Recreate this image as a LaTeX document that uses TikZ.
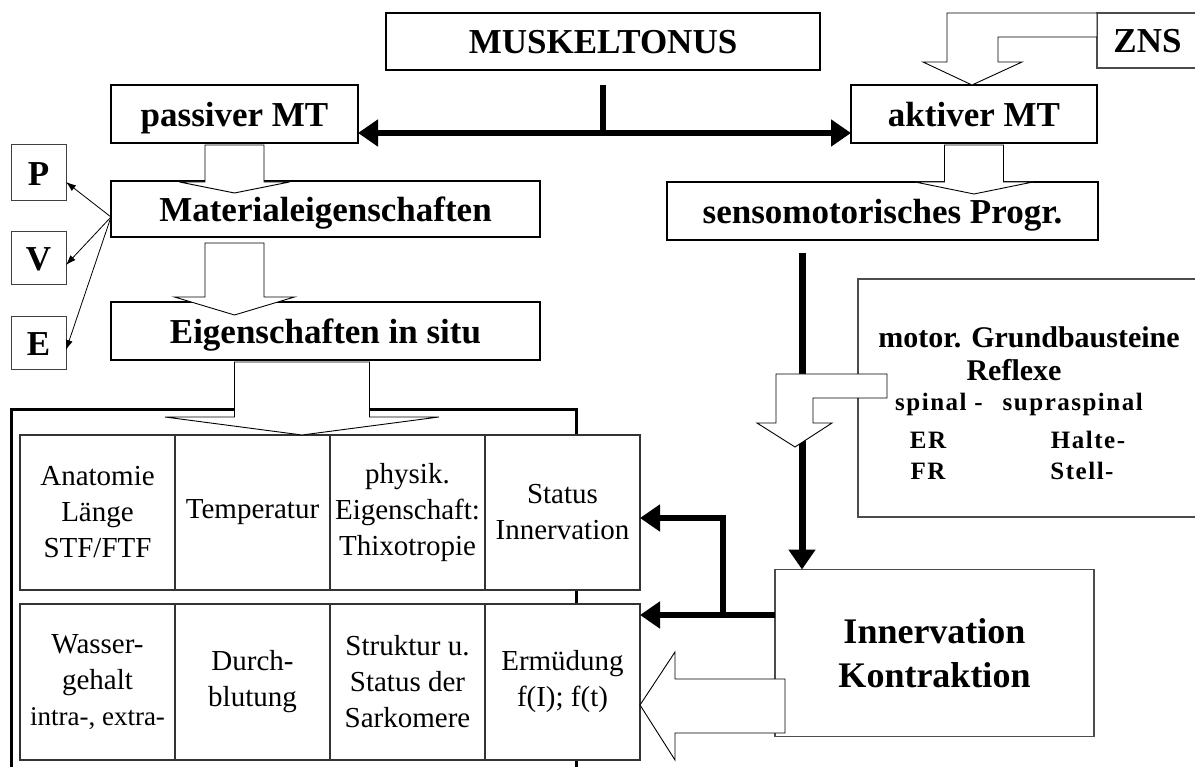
\documentclass[tikz,border=0pt]{standalone}
\usepackage{fontspec}
\setmainfont{Liberation Serif}
\newfontfamily\spacedfont[LetterSpace=6]{Liberation Serif}
\usetikzlibrary{arrows.meta, calc}

\tikzset{
  titlebox/.style={
    draw, line width=2.6pt, fill=white, inner sep=0pt, outer sep=0pt,
    minimum height=57pt, text height=25pt, text depth=0pt,
    font=\bfseries\fontsize{35}{40}\selectfont
  },
  letterbox/.style={
    draw=black!75, line width=1pt, fill=white, inner sep=0pt, outer sep=0pt,
    minimum width=55pt, text height=25pt, text depth=0pt,
    font=\bfseries\fontsize{35}{40}\selectfont
  },
  thinbox/.style={
    draw=black!70, line width=1.1pt, fill=white, inner sep=0pt, outer sep=0pt
  },
  cellbox/.style={
    draw=black!80, line width=1.1pt, fill=white, inner sep=0pt, outer sep=0pt,
    minimum width=155pt, minimum height=155pt, align=center,
    font=\fontsize{29}{36}\selectfont
  },
  motortext/.style={font=\bfseries\fontsize{30}{37}\selectfont, inner sep=0pt},
  reflextext/.style={font=\spacedfont\bfseries\fontsize{25}{31}\selectfont, inner sep=0pt},
  thickarr/.style={line width=6pt, -{Triangle[length=20pt,width=26pt]}},
  thinarr/.style={line width=0.8pt, -{Latex[length=10pt,width=7pt]}},
  blockarr/.style={draw, line width=0.9pt, fill=white, line join=miter},
  frameline/.style={line width=3pt}
}

% open block arrow pointing down: x, top, head, tip, half shaft, half head
\newcommand\blockdown[6]{%
  \draw[blockarr] (#1-#5,#2) -- (#1+#5,#2) -- (#1+#5,#3) -- (#1+#6,#3)
    -- (#1,#4) -- (#1-#6,#3) -- (#1-#5,#3) -- cycle;}

\begin{document}
\begin{tikzpicture}[x=1pt,y=-1pt]
  \useasboundingbox (0,0) rectangle (1195,767);
  \clip (0,0) rectangle (1195,767);

  % frame round the property table
  \draw[frameline] (11.5,790) -- (11.5,410) -- (576,410) -- (576,790);

  % table cells
  \node[cellbox] (c11) at (97.5,512.5) {Anatomie\\Länge\\STF/FTF};
  \node[cellbox] (c12) at (252.5,512.5) {Temperatur};
  \node[cellbox] (c13) at (407.5,512.5) {physik.\\Eigenschaft:\\Thixotropie};
  \node[cellbox] (c14) at (562.5,512.5) {Status\\Innervation};
  \node[cellbox,minimum height=156pt] (c21) at (97.5,682)
    {Wasser-\\gehalt\\{\fontsize{27}{36}\selectfont intra-, extra-}};
  \node[cellbox,minimum height=156pt] (c22) at (252.5,682) {Durch-\\blutung};
  \node[cellbox,minimum height=156pt] (c23) at (407.5,682) {Struktur u.\\Status der\\Sarkomere};
  \node[cellbox,minimum height=156pt] (c24) at (562.5,682) {Ermüdung\\f(I); f(t)};

  % title boxes
  \node[titlebox,minimum width=434pt] (tonus) at (603,41.5) {MUSKELTONUS};
  \node[titlebox,minimum width=247pt,minimum height=58pt] (passiv) at (234.5,114) {passiver MT};
  \node[titlebox,minimum width=246pt,minimum height=58pt] (aktiv) at (974,114) {aktiver MT};
  \node[titlebox,minimum width=429pt,minimum height=56pt] (material) at (325.5,209) {Materialeigenschaften};
  \node[titlebox,minimum width=429pt,minimum height=58pt] (insitu) at (325.5,331) {Eigenschaften in situ};
  \node[titlebox,minimum width=431pt,minimum height=58pt] (senso) at (882.5,211) {sensomotorisches Progr.};

  \node[letterbox,minimum height=56pt] (p) at (38.5,173) {P};
  \node[letterbox,minimum height=53pt] (v) at (38.5,258.5) {V};
  \node[letterbox,minimum height=53pt] (e) at (38.5,343.5) {E};

  \node[thinbox,minimum width=101pt,minimum height=55pt,text height=25pt,text depth=0pt,
    font=\bfseries\fontsize{35}{40}\selectfont] (zns) at (1147.5,40.5) {ZNS};
  \node[thinbox,minimum width=342pt,minimum height=238pt] (motor) at (1029,398) {};
  \node[thinbox,minimum width=319pt,minimum height=167pt,align=center,
    font=\bfseries\fontsize{36}{44}\selectfont] (innerv) at (934.5,653) {Innervation\\Kontraktion};

  % thin arrows to P, V, E
  \draw[thinarr] ([yshift=-8pt]material.west) -- ([yshift=-9pt]p.east);
  \draw[thinarr] ([yshift=-8pt]material.west) -- ([yshift=-6.5pt]v.east);
  \draw[thinarr] ([yshift=-8pt]material.west) -- ([yshift=-6.5pt]e.east);

  % thick arrows
  \coordinate (split) at (603,133);
  \draw[line width=6pt] (split) -- (split |- passiv.north);
  \draw[thickarr] (split) -- (split -| passiv.east);
  \draw[thickarr] (split) -- (split -| aktiv.west);

  \coordinate (sdown) at (802,253);
  \draw[thickarr,line width=7pt] (sdown) -- (sdown |- innerv.north);

  \coordinate (fork) at (723,615);
  \coordinate (bend) at (723,518);
  \draw[thickarr] (fork -| innerv.west) -- (fork -| c24.east);
  \draw[thickarr] (fork) -- (bend) -- (bend -| c14.east);

  % open block arrows
  \blockdown{234.5}{145}{182}{193}{29.5}{55}
  \blockdown{234.5}{243}{297}{315}{29.5}{60}
  \blockdown{302}{362}{417}{435}{67.5}{137}
  \blockdown{974}{145}{182}{194}{29.5}{59}
  \draw[blockarr] (zns.west |- 0,13) -- (947,13) -- (947,62) -- (923,62) -- (972,85)
    -- (1022,62) -- (998,62) -- (998,37) -- (zns.west |- 0,37) -- cycle;
  \draw[blockarr] (887,374) -- (776,374) -- (776,423) -- (757,423) -- (795,447)
    -- (832,423) -- (813,423) -- (813,398) -- (887,398) -- cycle;
  \draw[blockarr] (785,679) -- (675,679) -- (675,652) -- (c24.east |- 0,705)
    -- (675,760) -- (675,733) -- (785,733) -- cycle;

  % text of the motor box
  \node[motortext] (grund) at (1029,337) {motor. Grundbausteine};
  \node[motortext] (reflexe) at (1014,370) {Reflexe};
  \node[reflextext] (spinal) at (1019,404) {spinal -\hspace{0.8em}supraspinal};
  \node[reflextext] (er) at (928,440) {ER};
  \node[reflextext] (halte) at (1088,440) {Halte-};
  \node[reflextext] (fr) at (928,471) {FR};
  \node[reflextext] (stell) at (1082,471) {Stell-};
\end{tikzpicture}
\end{document}
